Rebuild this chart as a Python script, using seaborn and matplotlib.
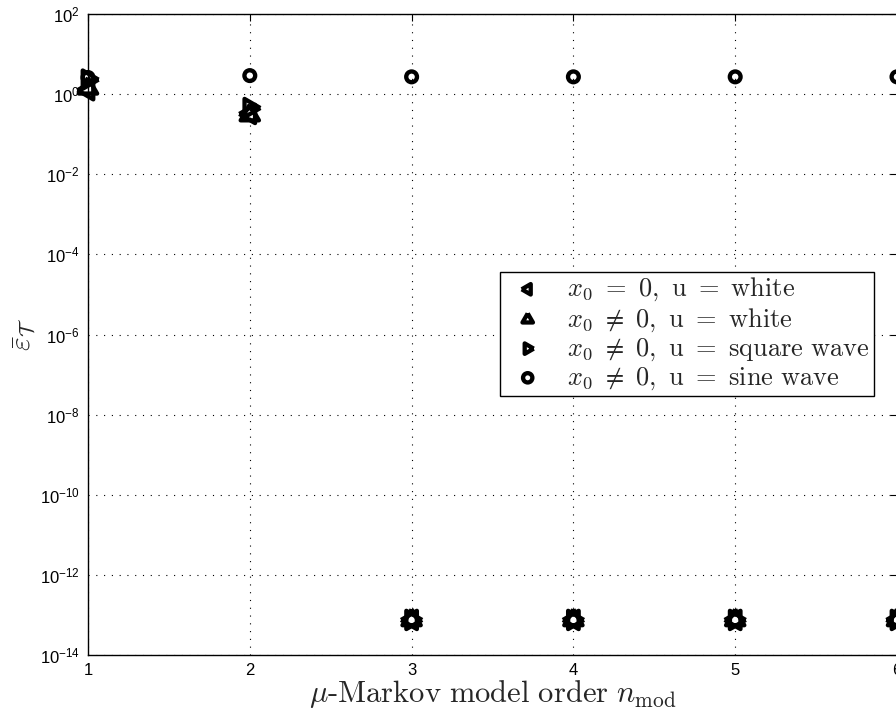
import numpy as np
import pandas as pd
import seaborn as sns
import matplotlib
matplotlib.use("Agg")
import matplotlib.pyplot as plt
from matplotlib.ticker import FixedLocator, NullLocator, LogFormatterSciNotation

# Model orders evaluated
orders = [1, 2, 3, 4, 5, 6]

# Mean error for each experiment setting
err_zero_white = [1.25, 0.32, 7.5e-14, 7.5e-14, 7.5e-14, 7.5e-14]
err_nonzero_white = [1.4, 0.30, 7.5e-14, 7.5e-14, 7.5e-14, 7.5e-14]
err_square_wave = [2.3, 0.45, 7.5e-14, 7.5e-14, 7.5e-14, 7.5e-14]
err_sine_wave = [2.6, 2.9, 2.7, 2.7, 2.7, 2.7]

series_labels = [
    r"$x_0\ =\ 0,\ \mathrm{u}\ =\ \mathrm{white}$",
    r"$x_0\ \neq\ 0,\ \mathrm{u}\ =\ \mathrm{white}$",
    r"$x_0\ \neq\ 0,\ \mathrm{u}\ =\ \mathrm{square\ wave}$",
    r"$x_0\ \neq\ 0,\ \mathrm{u}\ =\ \mathrm{sine\ wave}$",
]
series_values = [err_zero_white, err_nonzero_white, err_square_wave, err_sine_wave]

# Equilateral triangles centred on their centroid, plus a circle
s3 = np.sqrt(3) / 2
tri_left = [(-1, 0), (0.5, s3), (0.5, -s3), (-1, 0)]
tri_up = [(0, 1), (-s3, -0.5), (s3, -0.5), (0, 1)]
tri_right = [(1, 0), (-0.5, s3), (-0.5, -s3), (1, 0)]
series_markers = [tri_left, tri_up, tri_right, "o"]
series_sizes = [230, 230, 230, 60]
legend_sizes = [75, 75, 75, 45]

y_tick_exponents = [-14, -12, -10, -8, -6, -4, -2, 0, 2]

sns.set_style("white")
plt.rcParams["font.family"] = ["Liberation Sans", "DejaVu Sans"]
plt.rcParams["mathtext.fontset"] = "cm"

fig = plt.figure(figsize=(8.96, 7.21), dpi=100)
ax = fig.add_axes([88 / 896, 66 / 721, 809 / 896, 641 / 721])

for label, values, marker, size in zip(series_labels, series_values,
                                       series_markers, series_sizes):
    df = pd.DataFrame({"order": orders, "err": values})
    sns.scatterplot(
        data=df, x="order", y="err", ax=ax, marker=marker, s=size,
        facecolor="none", edgecolor="black", linewidth=3.1,
        label=label, zorder=3, clip_on=False,
    )

ax.set_yscale("log")
ax.set_xlim(1, 6)
ax.set_ylim(1e-14, 1e2)
ax.yaxis.set_major_locator(FixedLocator([10.0 ** e for e in y_tick_exponents]))
ax.yaxis.set_minor_locator(NullLocator())
ax.yaxis.set_major_formatter(LogFormatterSciNotation())
ax.set_xticks(orders)

ax.grid(True, which="major", color="black", linestyle=(0, (1, 6)), linewidth=0.8)
ax.tick_params(axis="both", which="major", direction="in", length=5, width=0.8,
               top=True, right=True, labelsize=12, pad=6, colors="black")
for sp in ax.spines.values():
    sp.set_linewidth(1.0)
    sp.set_color("black")

ax.set_xlabel(r"$\mu\mathrm{\text{-}Markov\ model\ order}\ n_{\mathrm{mod}}$",
              fontsize=22, labelpad=0)
ax.set_ylabel(r"$\bar{\varepsilon}_{\mathcal{T}}$", fontsize=21, labelpad=2)

leg = ax.legend(
    loc="upper left", bbox_to_anchor=(500 / 896, 1 - 272 / 721),
    bbox_transform=fig.transFigure, borderaxespad=0, fontsize=19, frameon=True,
    fancybox=False, edgecolor="black", framealpha=1, borderpad=0.15,
    labelspacing=0.1, handletextpad=0.6, handlelength=1.8, markerscale=1.0,
)
for handle, lsize in zip(leg.legend_handles, legend_sizes):
    handle.set_sizes([lsize])
leg.get_frame().set_linewidth(1.0)

fig.savefig("out.png", dpi=100)
